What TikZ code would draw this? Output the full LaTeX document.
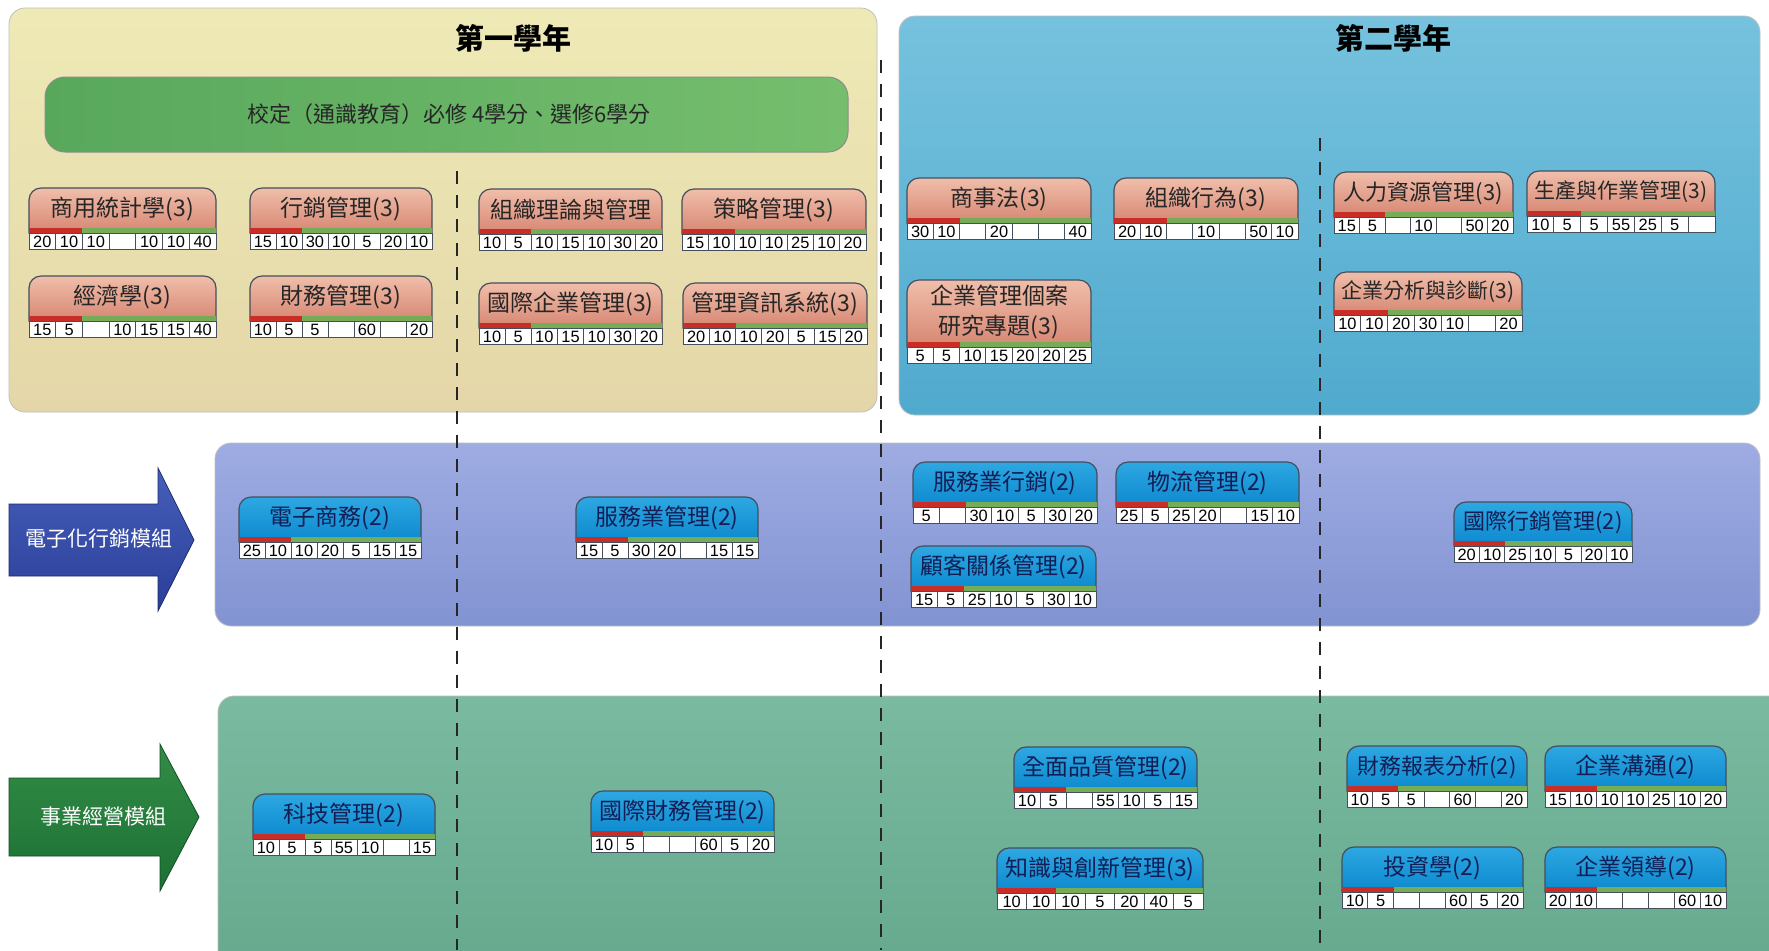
\documentclass[tikz,border=0pt]{standalone}
\usepackage{fontspec}
\setmainfont{Noto Sans CJK TC}
\newfontfamily\numf{Liberation Sans}
\definecolor{yA}{RGB}{238,234,182}
\definecolor{yB}{RGB}{228,214,168}
\definecolor{tA}{RGB}{118,194,222}
\definecolor{tB}{RGB}{80,170,206}
\definecolor{gbarA}{RGB}{88,168,92}
\definecolor{gbarB}{RGB}{118,190,110}
\definecolor{bbA}{RGB}{158,172,226}
\definecolor{bbB}{RGB}{130,147,210}
\definecolor{gbA}{RGB}{122,186,160}
\definecolor{gbB}{RGB}{100,168,140}
\definecolor{salA}{RGB}{240,190,170}
\definecolor{salB}{RGB}{214,134,114}
\definecolor{bluA}{RGB}{45,168,226}
\definecolor{bluB}{RGB}{12,136,206}
\definecolor{rbar}{RGB}{200,45,40}
\definecolor{gstrip}{RGB}{118,172,88}
\definecolor{edge}{RGB}{70,78,92}
\definecolor{arB}{RGB}{42,62,152}
\definecolor{arBl}{RGB}{70,95,185}
\definecolor{arG}{RGB}{28,112,52}
\definecolor{arGl}{RGB}{50,140,70}
\definecolor{navy}{RGB}{18,30,85}
\tikzset{
  sal tab/.style={draw=edge, line width=0.6pt, top color=salA, bottom color=salB},
  blu tab/.style={draw=edge, line width=0.6pt, top color=bluA, bottom color=bluB},
  sal text/.style={text=black!85},
  blu text/.style={text=navy},
  ttl/.style={inner sep=0pt, align=center},
  cellbox/.style={draw=edge, line width=0.5pt, fill=white},
  num/.style={inner sep=0pt, font=\numf\fontsize{8.2}{9}\selectfont, text=black},
  divider/.style={line width=1pt, dash pattern=on 6.5pt off 5.5pt, black!85},
  panel/.style={rounded corners=8pt, draw=black!25, line width=0.4pt},
}
% #1 name, #2 x, #3 y, #4 width, #5 tab height, #6 sal/blu, #7 font size, #8 title, #9 numbers
\newcommand\crs[9]{%
  \path[#6 tab] (#2,#3+#5+5) -- (#2,#3+12) arc[start angle=180,end angle=90,radius=6pt]
     -- (#2+#4-12,#3) arc[start angle=90,end angle=0,radius=6pt] -- (#2+#4,#3+#5+5) -- cycle;
  \node[ttl, #6 text, font=\fontsize{#7}{15}\selectfont] (#1) at (#2+#4/2,#3+#5/2+1) {#8};
  \fill[rbar] (#2,#3+#5) rectangle (#2+2*#4/7,#3+#5+5);
  \fill[gstrip] (#2+2*#4/7,#3+#5) rectangle (#2+#4,#3+#5+5);
  \foreach \v [count=\i from 0] in {#9} {
    \draw[cellbox] (#2+\i*#4/7,#3+#5+5) rectangle +(#4/7,16);
    \node[num] (#1-\i) at (#2+\i*#4/7+#4/14,#3+#5+13.5) {\v};
  }%
}
\begin{document}
\begin{tikzpicture}[x=0.5pt,y=-0.5pt]
\useasboundingbox (0,0) rectangle (1769,950);
\clip (0,0) rectangle (1769,950);
\fill[white] (0,0) rectangle (1769,950);
% panels
\path[panel, top color=yA, bottom color=yB] (9,8) rectangle (877,412);
\path[panel, top color=tA, bottom color=tB] (899,16) rectangle (1760,415);
\path[panel, top color=bbA, bottom color=bbB] (215,443) rectangle (1760,626);
\path[panel, top color=gbA, bottom color=gbB] (218,696) rectangle (1800,990);
% titles
\node[font=\fontsize{14.5}{16}\selectfont\bfseries] (y1) at (513,38) {第一學年};
\node[font=\fontsize{14.5}{16}\selectfont\bfseries] (y2) at (1393,38) {第二學年};
% general education bar
\path[rounded corners=10pt, draw=black!45, line width=0.5pt, left color=gbarA, right color=gbarB] (45,77) rectangle (848,152);
\node[font=\fontsize{11}{13}\selectfont, text=black!85] (ge) at (449,114) {校定（通識教育）必修 4學分、選修6學分};
% module arrows
\path[top color=arBl, bottom color=arB, draw=arB!70!black, line width=0.4pt]
  (9,504) -- (158,504) -- (158,468) -- (194,540) -- (158,611) -- (158,576) -- (9,576) -- cycle;
\node[text=white, font=\fontsize{10.5}{12}\selectfont] (mA) at (99,539) {電子化行銷模組};
\path[top color=arGl, bottom color=arG, draw=arG!70!black, line width=0.4pt]
  (9,778) -- (160,778) -- (160,744) -- (199,817) -- (160,891) -- (160,856) -- (9,856) -- cycle;
\node[text=white, font=\fontsize{10.5}{12}\selectfont] (mB) at (103,817) {事業經營模組};
% dividers
\coordinate (d1a) at (457,171); \coordinate (d1b) at (457,950);
\coordinate (d2a) at (881,60);  \coordinate (d2b) at (881,950);
\coordinate (d3a) at (1320,138); \coordinate (d3b) at (1320,950);
\draw[divider] (d1a) -- (d1b);
\draw[divider] (d2a) -- (d2b);
\draw[divider] (d3a) -- (d3b);
% year 1 courses
\crs{c1}{29}{188}{187}{40}{sal}{11.5}{商用統計學(3)}{20,10,10,{},10,10,40}
\crs{c2}{250}{188}{182}{40}{sal}{11.5}{行銷管理(3)}{15,10,30,10,5,20,10}
\crs{c3}{29}{276}{187}{40}{sal}{11.5}{經濟學(3)}{15,5,{},10,15,15,40}
\crs{c4}{250}{276}{182}{40}{sal}{11.5}{財務管理(3)}{10,5,5,{},60,{},20}
\crs{c5}{479}{189}{183}{40}{sal}{11.5}{組織理論與管理}{10,5,10,15,10,30,20}
\crs{c6}{682}{189}{184}{40}{sal}{11.5}{策略管理(3)}{15,10,10,10,25,10,20}
\crs{c7}{479}{283}{183}{40}{sal}{11.5}{國際企業管理(3)}{10,5,10,15,10,30,20}
\crs{c8}{683}{283}{184}{40}{sal}{11.5}{管理資訊系統(3)}{20,10,10,20,5,15,20}
% year 2 courses
\crs{c9}{907}{178}{184}{40}{sal}{11.5}{商事法(3)}{30,10,{},20,{},{},40}
\crs{c10}{1114}{178}{184}{40}{sal}{11.5}{組織行為(3)}{20,10,{},10,{},50,10}
\crs{c11}{907}{280}{184}{62}{sal}{11.5}{企業管理個案\\研究專題(3)}{5,5,10,15,20,20,25}
\crs{c12}{1334}{172}{179}{40}{sal}{11}{人力資源管理(3)}{15,5,{},10,{},50,20}
\crs{c13}{1527}{171}{188}{40}{sal}{10.5}{生產與作業管理(3)}{10,5,5,55,25,5,{}}
\crs{c14}{1334}{272}{188}{38}{sal}{10.5}{企業分析與診斷(3)}{10,10,20,30,10,{},20}
% e-marketing module
\crs{m1}{239}{497}{182}{40}{blu}{11.5}{電子商務(2)}{25,10,10,20,5,15,15}
\crs{m2}{576}{497}{182}{40}{blu}{11.5}{服務業管理(2)}{15,5,30,20,{},15,15}
\crs{m3}{913}{462}{184}{40}{blu}{11.5}{服務業行銷(2)}{5,{},30,10,5,30,20}
\crs{m4}{1116}{462}{183}{40}{blu}{11.5}{物流管理(2)}{25,5,25,20,{},15,10}
\crs{m5}{911}{546}{185}{40}{blu}{11.5}{顧客關係管理(2)}{15,5,25,10,5,30,10}
\crs{m6}{1454}{502}{178}{39}{blu}{11}{國際行銷管理(2)}{20,10,25,10,5,20,10}
% business management module
\crs{g1}{253}{794}{182}{40}{blu}{11.5}{科技管理(2)}{10,5,5,55,10,{},15}
\crs{g2}{591}{791}{183}{40}{blu}{11.5}{國際財務管理(2)}{10,5,{},{},60,5,20}
\crs{g3}{1014}{747}{183}{40}{blu}{11.5}{全面品質管理(2)}{10,5,{},55,10,5,15}
\crs{g4}{997}{848}{206}{40}{blu}{11.5}{知識與創新管理(3)}{10,10,10,5,20,40,5}
\crs{g5}{1347}{746}{180}{40}{blu}{11}{財務報表分析(2)}{10,5,5,{},60,{},20}
\crs{g6}{1545}{746}{181}{40}{blu}{11.5}{企業溝通(2)}{15,10,10,10,25,10,20}
\crs{g7}{1342}{847}{181}{40}{blu}{11.5}{投資學(2)}{10,5,{},{},60,5,20}
\crs{g8}{1545}{847}{181}{40}{blu}{11.5}{企業領導(2)}{20,10,{},{},{},60,10}
\end{tikzpicture}
\end{document}
